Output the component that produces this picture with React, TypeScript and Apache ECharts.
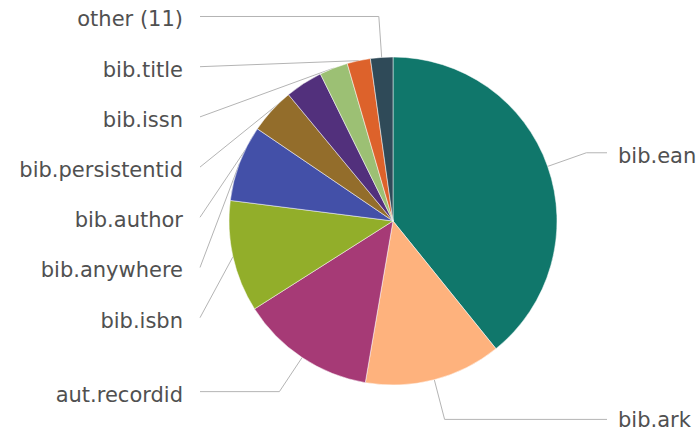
import React, { useEffect, useRef } from "react";
import * as echarts from "echarts";

const categories = [
  "bib.ean",
  "bib.ark",
  "aut.recordid",
  "bib.isbn",
  "bib.anywhere",
  "bib.author",
  "bib.persistentid",
  "bib.issn",
  "bib.title",
  "other (11)",
];
const values = [39.2, 13.5, 13.3, 11.0, 7.5, 4.5, 3.7, 2.8, 2.3, 2.2];
const colors = [
  "#10776b",
  "#feb27d",
  "#a63a76",
  "#92ae2a",
  "#4350a8",
  "#936d2b",
  "#52307c",
  "#9cc074",
  "#dd622b",
  "#2f4a58",
];

// layout constants
const WIDTH = 696;
const HEIGHT = 431;
const CX = 393;
const CY = 221;
const R = 164;
const LABEL_R = R + 41;
const GAP = 50.2;
const FONT_SIZE = 21;
const LEFT_LINE_END = 200;
const LEFT_TEXT_X = 183;
const RIGHT_LINE_END = 607;
const RIGHT_TEXT_X = 618;

type LItem = {
  i: number;
  dx: number;
  dy: number;
  left: boolean;
  edge: number[];
  natY: number;
  y: number;
};

function computeLabelLayout(): LItem[] {
  const total = values.reduce((a, b) => a + b, 0);
  let acc = 0;
  const items: LItem[] = values.map((v, i) => {
    const mid = ((acc + v / 2) / total) * Math.PI * 2;
    acc += v;
    const dx = Math.sin(mid);
    const dy = -Math.cos(mid);
    return {
      i,
      dx,
      dy,
      left: dx < 0,
      edge: [CX + dx * R, CY + dy * R],
      natY: CY + dy * LABEL_R,
      y: 0,
    };
  });
  [true, false].forEach((side) => {
    const list = items.filter((it) => it.left === side).sort((a, b) => a.natY - b.natY);
    let prev = -Infinity;
    list.forEach((it) => {
      it.y = Math.max(it.natY, prev + GAP);
      prev = it.y;
    });
  });
  return items;
}

export default function App() {
  const ref = useRef<HTMLDivElement>(null);
  useEffect(() => {
    if (!ref.current) return;
    const chart = echarts.init(ref.current, undefined, { renderer: "svg" });
    const layout = computeLabelLayout();
    chart.setOption({
      animation: false,
      backgroundColor: "#ffffff",
      series: [
        {
          type: "pie",
          center: [CX, CY],
          radius: R,
          startAngle: 90,
          clockwise: true,
          avoidLabelOverlap: false,
          silent: true,
          data: categories.map((name, i) => ({
            name,
            value: values[i],
            itemStyle: { color: colors[i] },
          })),
          itemStyle: { borderColor: "#ffffff", borderWidth: 0.5 },
          label: {
            show: true,
            position: "outside",
            formatter: "{b}",
            fontFamily: "DejaVu Sans",
            fontSize: FONT_SIZE,
            lineHeight: 16,
            color: "#505050",
          },
          labelLine: {
            show: true,
            length: 20,
            length2: 20,
            lineStyle: { color: "#b4b4b4", width: 1 },
          },
          labelLayout: (params: any) => {
            const it = layout[params.dataIndex];
            const endX = it.left ? LEFT_LINE_END : RIGHT_LINE_END;
            const L = (it.y - it.edge[1]) / it.dy;
            const p1 =
              L > 0 && L < 60
                ? [it.edge[0] + it.dx * L, it.y]
                : [it.edge[0], it.edge[1]];
            const textY = Math.min(
              Math.max(it.y + 3, FONT_SIZE / 2 + 1),
              HEIGHT - FONT_SIZE / 2 - 1
            );
            return {
              x: it.left ? LEFT_TEXT_X : RIGHT_TEXT_X,
              y: textY,
              align: it.left ? "right" : "left",
              verticalAlign: "middle",
              labelLinePoints: [
                [it.edge[0], it.edge[1]],
                p1,
                [endX, it.y],
              ],
            };
          },
        },
      ],
    });
    return () => chart.dispose();
  }, []);
  return (
    <div
      ref={ref}
      style={{ position: "fixed", left: 0, top: 0, width: WIDTH, height: HEIGHT, background: "#fff" }}
    />
  );
}
